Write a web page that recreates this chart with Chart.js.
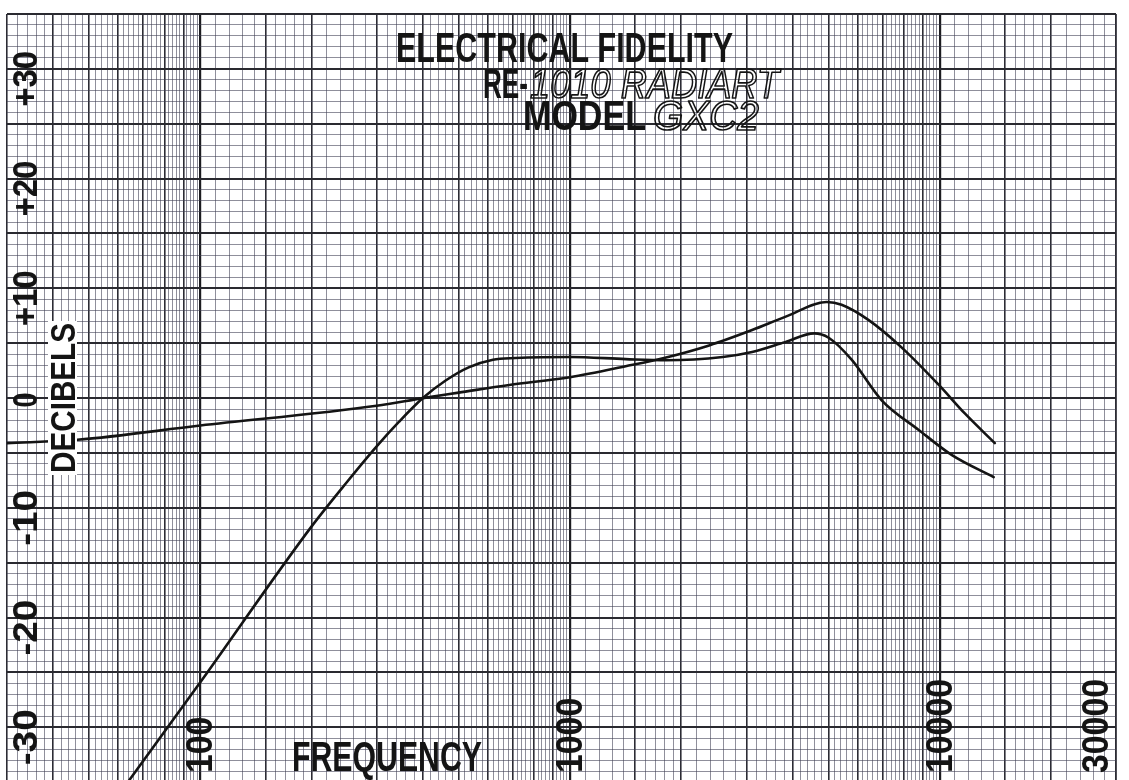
<!DOCTYPE html>
<html>
<head>
<meta charset="utf-8">
<title>Electrical Fidelity</title>
<script src="https://cdn.jsdelivr.net/npm/chart.js@4.4.0/dist/chart.umd.min.js"></script>
<style>
  html, body { margin: 0; padding: 0; background: #fff; overflow: hidden; }
  canvas { display: block; }
</style>
</head>
<body>
<canvas id="grafica" width="1129" height="780"></canvas>
<script>
// curva A: la casi plana que sube hasta el pico alto
var freqA = [30, 46.5, 100, 300, 400, 500, 685, 1000, 1415, 1820, 2380, 3110, 3820, 4950, 5430, 6430, 7900, 9950, 11700, 14100];
var dbA = [-4.1, -3.8, -2.5, -0.7, 0, 0.5, 1.2, 1.9, 2.9, 3.7, 4.8, 6.2, 7.4, 8.75, 8.5, 7.1, 4.6, 1.2, -1.4, -4.1];
// curva B: la que sube desde abajo
var freqB = [60, 64.3, 100, 201, 250, 300, 345, 400, 461, 532, 619, 713, 1000, 1415, 1820, 2590, 3110, 3820, 4580, 5010, 5780, 6970, 8780, 10800, 14000];
var dbB = [-36.2, -34.8, -25.9, -11.6, -7.6, -4.4, -2.15, 0, 1.6, 2.8, 3.5, 3.65, 3.75, 3.55, 3.45, 3.75, 4.2, 5.1, 5.9, 5.5, 3.5, -0.2, -2.9, -5.2, -7.2];
var dbLabels = [30, 20, 10, 0, -10, -20, -30];
var freqLabels = [100, 1000, 10000, 30000];

var FUENTE = '"Liberation Sans", Arial, "DejaVu Sans", sans-serif';
var TINTA = '#141414';

// lineas del papel logaritmico: 1-2 cada 0.1, 2-10 cada 0.2
function lineasFrecuencia() {
  var vals = [];
  for (var e = 1; e <= 4; e++) {
    var base = Math.pow(10, e);
    for (var m = 1; m < 10 - 1e-9; m += (m < 2 - 1e-9 ? 0.1 : 0.2)) {
      var v = Math.round(m * base * 100) / 100;
      if (v >= 30 && v <= 30000) vals.push(v);
    }
  }
  vals.push(30000);
  return vals;
}

function mantisa(v) {
  var e = Math.floor(Math.log10(v) + 1e-9);
  return Math.round(v / Math.pow(10, e) * 100) / 100;
}

function colorX(c) {
  var m = mantisa(c.tick.value);
  if (m === 1) return '#1c1c20';
  if (Number.isInteger(m) || m === 1.5) return '#2c2c34';
  return 'rgba(62,62,82,0.58)';
}
function anchoX(c) {
  var m = mantisa(c.tick.value);
  if (m === 1) return 2.2;
  if (Number.isInteger(m) || m === 1.5) return 1.6;
  return 1;
}
function colorY(c) {
  return c.tick.value % 5 === 0 ? '#2a2a30' : 'rgba(62,62,82,0.58)';
}
function anchoY(c) {
  return c.tick.value % 5 === 0 ? 2 : 1;
}

// texto ajustado a una caja: largo a lo largo de la linea base, alto = altura de mayusculas
function texto(c, str, cx, cy, largo, alto, estilo) {
  estilo = estilo || {};
  var size = alto / 0.716;
  c.save();
  c.translate(cx, cy);
  if (estilo.vertical) c.rotate(-Math.PI / 2);
  c.font = (estilo.italic ? 'italic ' : '') + (estilo.peso || 'bold') + ' ' + size + 'px ' + FUENTE;
  var w = c.measureText(str).width;
  c.scale(largo / w, 1);
  c.textAlign = 'center';
  c.textBaseline = 'alphabetic';
  c.lineJoin = 'round';
  if (estilo.hueco) {
    c.lineWidth = 1.7;
    c.strokeStyle = TINTA;
    c.strokeText(str, 0, alto / 2);
  } else {
    c.fillStyle = TINTA;
    c.fillText(str, 0, alto / 2);
  }
  c.restore();
}

var rotulos = {
  id: 'rotulos',
  afterDraw: function (chart) {
    var c = chart.ctx;
    var xs = chart.scales.x, ys = chart.scales.y;
    var area = chart.chartArea;

    // escala de decibeles
    dbLabels.forEach(function (v) {
      var txt = v > 0 ? '+' + v : (v < 0 ? '-' + Math.abs(v) : '0');
      var cy = ys.getPixelForValue(v) + (v === 0 ? 2 : 10);
      texto(c, txt, 24.5, cy, v === 0 ? 15 : 56, 25, { vertical: true });
    });

    // frecuencias al pie
    freqLabels.forEach(function (v) {
      var s = String(v);
      var largo = 18.8 * s.length;
      var cx = Math.min(xs.getPixelForValue(v) - 1, area.right - 21);
      texto(c, s, cx, 773 - largo / 2, largo, 26, { vertical: true });
    });

    texto(c, 'FREQUENCY', 387, 756, 190, 30);

    // DECIBELS con fondo blanco, tapa la curva
    c.fillStyle = '#fff';
    c.fillRect(48, 321, 29, 154);
    texto(c, 'DECIBELS', 62.5, 398, 150, 25, { vertical: true });

    // titulo
    texto(c, 'ELECTRICAL FIDELITY', 564.5, 47, 337, 30);
    texto(c, 'RE-', 505.5, 83, 45, 30);
    texto(c, '1010 RADIART', 654.5, 83, 249, 30, { italic: true, hueco: true, peso: 'normal' });
    texto(c, 'MODEL', 584.5, 115, 123, 30);
    texto(c, 'GXC2', 706, 115, 106, 30, { italic: true, hueco: true, peso: 'normal' });
  }
};

function puntos(fs, ds) {
  return fs.map(function (f, i) { return { x: f, y: ds[i] }; });
}

var grafica = new Chart(document.getElementById('grafica'), {
  type: 'line',
  data: {
    datasets: [
      { data: puntos(freqA, dbA), borderColor: TINTA, borderWidth: 2.6, cubicInterpolationMode: 'monotone', borderCapStyle: 'round', borderJoinStyle: 'round' },
      { data: puntos(freqB, dbB), borderColor: TINTA, borderWidth: 2.6, cubicInterpolationMode: 'monotone', borderCapStyle: 'round', borderJoinStyle: 'round' }
    ]
  },
  options: {
    responsive: false,
    animation: false,
    parsing: false,
    layout: { padding: { left: 7, top: 14, right: 13, bottom: 0 } },
    plugins: { legend: { display: false }, tooltip: { enabled: false } },
    elements: { point: { radius: 0 } },
    scales: {
      x: {
        type: 'logarithmic',
        min: 30,
        max: 30000,
        border: { display: false },
        ticks: { display: false },
        grid: { drawTicks: false, color: colorX, lineWidth: anchoX },
        afterBuildTicks: function (s) {
          s.ticks = lineasFrecuencia().map(function (v) { return { value: v }; });
        }
      },
      y: {
        type: 'linear',
        min: -34.8,
        max: 35,
        border: { display: false },
        ticks: { display: false },
        grid: { drawTicks: false, color: colorY, lineWidth: anchoY },
        afterBuildTicks: function (s) {
          var t = [];
          for (var v = -34; v <= 35; v++) t.push({ value: v });
          s.ticks = t;
        }
      }
    }
  },
  plugins: [rotulos]
});
</script>
</body>
</html>
